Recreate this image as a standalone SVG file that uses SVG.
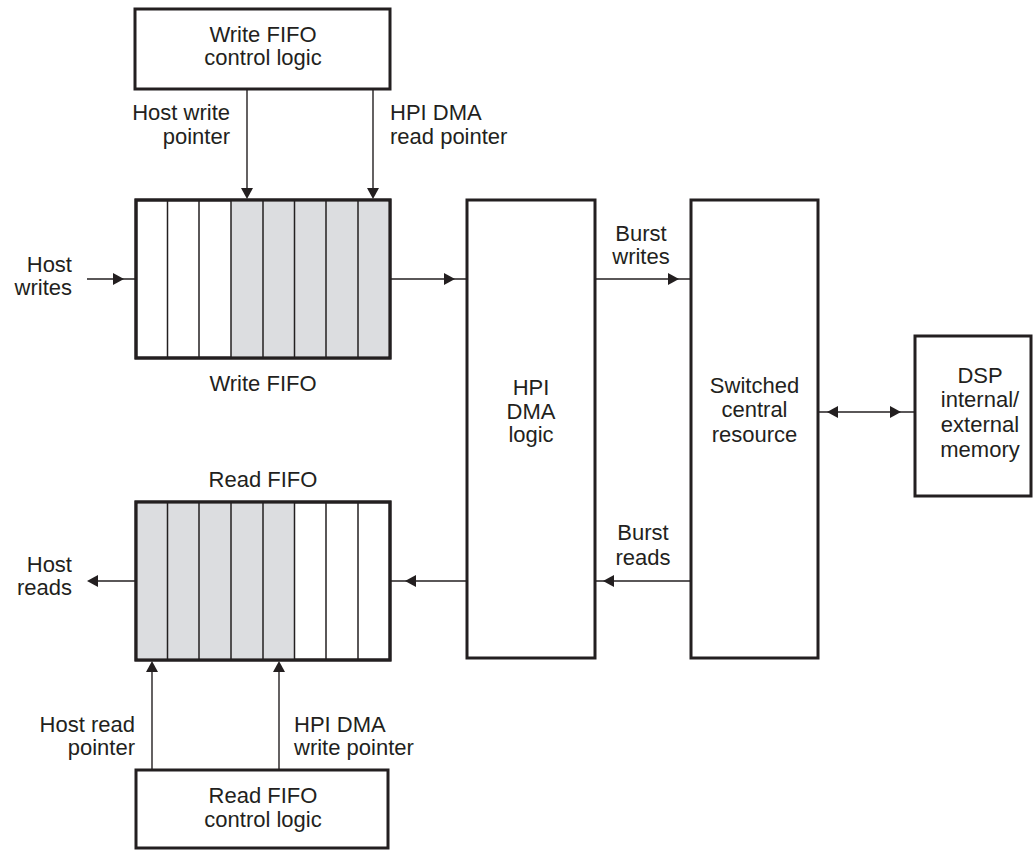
<svg xmlns="http://www.w3.org/2000/svg" xmlns:xlink="http://www.w3.org/1999/xlink" width="1034" height="850" viewBox="0 0 1034 850">
<style>
.box{fill:#fff;stroke:#231f20;stroke-width:3}
.shade{fill:#dcdde0;stroke:none}
.cell{stroke:#231f20;stroke-width:1.5;fill:none}
.ln{stroke:#231f20;stroke-width:1.4;fill:none}
.ah{fill:#231f20}
text{font-family:"Liberation Sans",Arial,sans-serif;font-size:22px;fill:#231f20}
.m{text-anchor:middle}
.r{text-anchor:end}
</style>
<defs>
<path id="ah" class="ah" d="M0,0 L-11,-6 L-11,6 Z"/>
</defs>
<rect width="1034" height="850" fill="#fff"/>

<g id="write-ctrl">
<rect class="box" x="135" y="9" width="255" height="80"/>
<text class="m" x="263" y="42">Write FIFO</text>
<text class="m" x="263" y="65">control logic</text>
</g>

<g id="write-fifo">
<rect class="box" x="136" y="200" width="254" height="158"/>
<rect class="shade" x="231" y="201.5" width="157.5" height="155"/>
<g class="cell">
<line x1="167.5" y1="200" x2="167.5" y2="358"/>
<line x1="199" y1="200" x2="199" y2="358"/>
<line x1="231" y1="200" x2="231" y2="358"/>
<line x1="263" y1="200" x2="263" y2="358"/>
<line x1="294.5" y1="200" x2="294.5" y2="358"/>
<line x1="326" y1="200" x2="326" y2="358"/>
<line x1="358" y1="200" x2="358" y2="358"/>
</g>
<rect x="136" y="200" width="254" height="158" fill="none" stroke="#231f20" stroke-width="3"/>
<text class="m" x="263" y="391">Write FIFO</text>
</g>

<g id="read-fifo">
<rect class="box" x="136" y="502" width="254" height="158"/>
<rect class="shade" x="137.5" y="503.5" width="157" height="155"/>
<g class="cell">
<line x1="167.5" y1="502" x2="167.5" y2="660"/>
<line x1="199" y1="502" x2="199" y2="660"/>
<line x1="231" y1="502" x2="231" y2="660"/>
<line x1="263" y1="502" x2="263" y2="660"/>
<line x1="294.5" y1="502" x2="294.5" y2="660"/>
<line x1="326" y1="502" x2="326" y2="660"/>
<line x1="358" y1="502" x2="358" y2="660"/>
</g>
<rect x="136" y="502" width="254" height="158" fill="none" stroke="#231f20" stroke-width="3"/>
<text class="m" x="263" y="487">Read FIFO</text>
</g>

<g id="read-ctrl">
<rect class="box" x="136" y="770" width="252" height="78"/>
<text class="m" x="263" y="803">Read FIFO</text>
<text class="m" x="263" y="827">control logic</text>
</g>

<g id="hpi-dma">
<rect class="box" x="467" y="200" width="128" height="458"/>
<text class="m" x="531" y="395">HPI</text>
<text class="m" x="531" y="419">DMA</text>
<text class="m" x="531" y="442">logic</text>
</g>

<g id="switched">
<rect class="box" x="691" y="200" width="127" height="458"/>
<text class="m" x="754.5" y="393">Switched</text>
<text class="m" x="754.5" y="417">central</text>
<text class="m" x="754.5" y="442">resource</text>
</g>

<g id="dsp-mem">
<rect class="box" x="915" y="336" width="116" height="160"/>
<text class="m" x="980" y="383">DSP</text>
<text class="m" x="980" y="407">internal/</text>
<text class="m" x="980" y="432">external</text>
<text class="m" x="980" y="457">memory</text>
</g>

<g id="connectors">
<line class="ln" x1="247" y1="89" x2="247" y2="190"/>
<use xlink:href="#ah" transform="translate(247,199) rotate(90)"/>
<line class="ln" x1="373" y1="89" x2="373" y2="190"/>
<use xlink:href="#ah" transform="translate(373,199) rotate(90)"/>

<line class="ln" x1="87" y1="279" x2="136" y2="279"/>
<use xlink:href="#ah" transform="translate(124,279)"/>
<line class="ln" x1="390" y1="279" x2="467" y2="279"/>
<use xlink:href="#ah" transform="translate(455,279)"/>
<line class="ln" x1="595" y1="279" x2="691" y2="279"/>
<use xlink:href="#ah" transform="translate(679,279)"/>

<line class="ln" x1="818" y1="412" x2="915" y2="412"/>
<use xlink:href="#ah" transform="translate(827,412) rotate(180)"/>
<use xlink:href="#ah" transform="translate(901,412)"/>

<line class="ln" x1="691" y1="581" x2="595" y2="581"/>
<use xlink:href="#ah" transform="translate(603,581) rotate(180)"/>
<line class="ln" x1="467" y1="581" x2="390" y2="581"/>
<use xlink:href="#ah" transform="translate(405,581) rotate(180)"/>
<line class="ln" x1="136" y1="581" x2="96" y2="581"/>
<use xlink:href="#ah" transform="translate(87,581) rotate(180)"/>

<line class="ln" x1="152" y1="770" x2="152" y2="670"/>
<use xlink:href="#ah" transform="translate(152,661) rotate(-90)"/>
<line class="ln" x1="279" y1="770" x2="279" y2="670"/>
<use xlink:href="#ah" transform="translate(279,661) rotate(-90)"/>
</g>

<g id="labels">
<text class="r" x="230" y="120">Host write</text>
<text class="r" x="230" y="144">pointer</text>
<text x="390" y="120">HPI DMA</text>
<text x="390" y="144">read pointer</text>
<text class="r" x="72" y="272">Host</text>
<text class="r" x="72" y="295">writes</text>
<text class="m" x="641" y="241">Burst</text>
<text class="m" x="641" y="264">writes</text>
<text class="m" x="643" y="540">Burst</text>
<text class="m" x="643" y="565">reads</text>
<text class="r" x="72" y="572">Host</text>
<text class="r" x="72" y="595">reads</text>
<text class="r" x="135" y="732">Host read</text>
<text class="r" x="135" y="755">pointer</text>
<text x="294" y="732">HPI DMA</text>
<text x="294" y="755">write pointer</text>
</g>
</svg>
